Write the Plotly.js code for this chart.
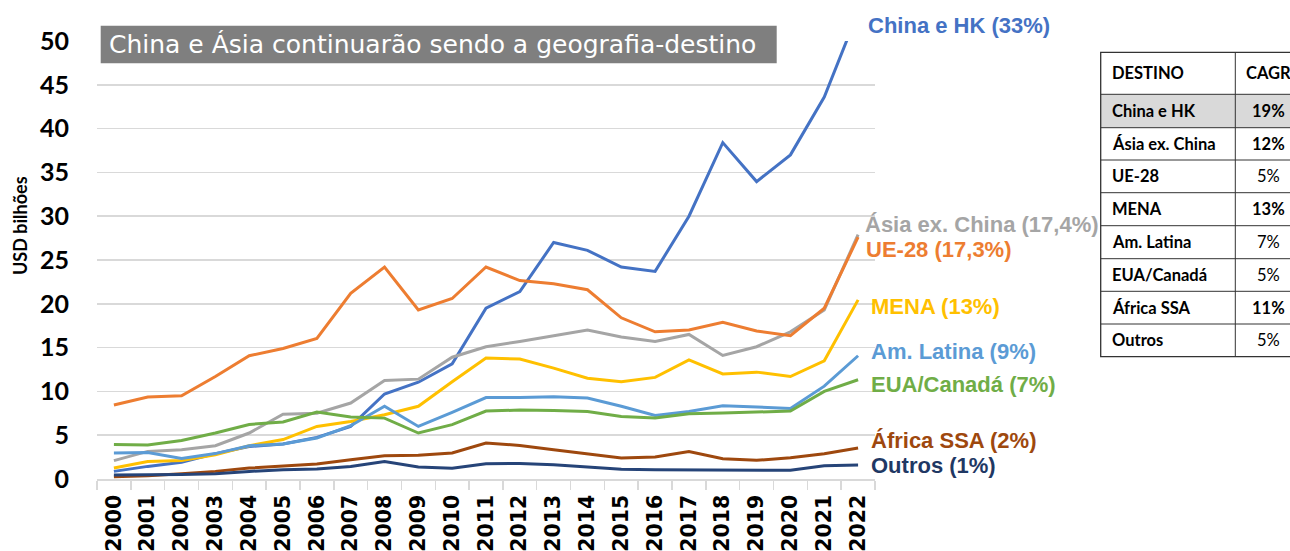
<!DOCTYPE html>
<html>
<head>
<meta charset="utf-8">
<script src="https://cdn.plot.ly/plotly-3.0.1.min.js"></script>
<style>html,body{margin:0;padding:0;background:#fff;}#chart{width:1290px;height:551px;}</style>
</head>
<body>
<div id="chart"></div>
<script>
// ---- data ----
const years = ["2000","2001","2002","2003","2004","2005","2006","2007","2008","2009","2010","2011","2012","2013","2014","2015","2016","2017","2018","2019","2020","2021","2022"];
const chinaHK   = [0.87,1.44,1.9,2.9,3.7,4.0,4.75,6.0,9.7,11.05,13.15,19.5,21.4,27.0,26.1,24.2,23.7,30.0,38.4,33.95,37.0,43.6,53.3];
const asiaExChina = [2.1,3.15,3.35,3.8,5.25,7.4,7.5,8.67,11.25,11.4,13.9,15.1,15.7,16.35,17.0,16.2,15.7,16.5,14.1,15.1,16.8,19.3,27.9];
const ue28      = [8.44,9.35,9.5,11.7,14.07,14.9,16.04,21.2,24.2,19.3,20.6,24.2,22.65,22.3,21.6,18.4,16.8,17.0,17.9,16.9,16.35,19.5,27.6];
const mena      = [1.25,2.0,2.1,2.77,3.8,4.5,6.0,6.57,7.33,8.3,11.1,13.8,13.7,12.66,11.5,11.1,11.6,13.6,12.0,12.2,11.7,13.5,20.45];
const amLatina  = [2.97,3.03,2.35,2.9,3.8,4.0,4.67,6.08,8.3,6.0,7.6,9.3,9.3,9.4,9.24,8.3,7.26,7.7,8.36,8.2,8.06,10.6,14.07];
const euaCanada = [3.95,3.87,4.4,5.25,6.23,6.5,7.64,7.07,6.95,5.25,6.2,7.75,7.87,7.83,7.7,7.14,6.96,7.45,7.53,7.68,7.75,10.0,11.33];
const africaSSA = [0.25,0.38,0.6,0.87,1.25,1.5,1.7,2.2,2.66,2.7,2.97,4.1,3.83,3.34,2.89,2.39,2.5,3.15,2.32,2.13,2.43,2.89,3.53];
const outros    = [0.45,0.45,0.5,0.6,0.87,1.05,1.15,1.44,2.0,1.37,1.22,1.75,1.78,1.63,1.37,1.1,1.07,1.05,0.99,0.99,0.99,1.52,1.6];

const seriesNames = ["China e HK","Ásia ex. China","UE-28","MENA","Am. Latina","EUA/Canadá","África SSA","Outros"];
const endLabels = ["China e HK (33%)","Ásia ex. China (17,4%)","UE-28 (17,3%)","MENA (13%)","Am. Latina (9%)","EUA/Canadá (7%)","África SSA (2%)","Outros (1%)"];
const tableHeader = ["DESTINO","CAGR"];
const tableDestinos = ["China e HK","Ásia ex. China","UE-28","MENA","Am. Latina","EUA/Canadá","África SSA","Outros"];
const tableCagr = ["19%","12%","5%","13%","7%","5%","11%","5%"];
const titleText = "China e Ásia continuarão sendo a geografia-destino";
const yTitle = "USD bilhões";

// ---- styles ----
const colors = ["#4472C4","#A5A5A5","#ED7D31","#FFC000","#5B9BD5","#70AD47","#9E480E","#264478"];
const labelColors = ["#4472C4","#A5A5A5","#ED7D31","#FFC000","#5B9BD5","#70AD47","#9E480E","#1F3864"];
const labelPixelY = [25,224,250,306,351,384,440,465];
const labelPixelX = [868,865,866,871,871,871,871,871];
const cagrBold = [true,true,false,true,false,false,true,false];

const allSeries = [chinaHK, asiaExChina, ue28, mena, amLatina, euaCanada, africaSSA, outros];

// plot geometry
const M = {l:97, r:415, t:41, b:72};
const W = 1290, H = 551;
const PW = W - M.l - M.r, PH = H - M.t - M.b;
const px = X => (X - M.l) / PW;
const py = Y => (H - M.b - Y) / PH;

const traces = allSeries.map((s,i) => ({
  type:'scatter', mode:'lines', x: years, y: s, name: seriesNames[i],
  line:{color: colors[i], width:3}, hoverinfo:'x+y+name'
}));

const annotations = [];
const shapes = [];

// title box
shapes.push({type:'rect', xref:'paper', yref:'paper', x0:px(100.7), x1:px(776.7), y0:py(63.3), y1:py(25.7), fillcolor:'#7F7F7F', line:{width:0}, layer:'above'});
annotations.push({xref:'paper', yref:'paper', x:px(107), y:py(44.5), xanchor:'left', yanchor:'middle', showarrow:false,
  text:titleText, font:{family:'DejaVu Sans', size:25, color:'#FFFFFF'}});

// y axis title
annotations.push({xref:'paper', yref:'paper', x:px(20), y:py(226), xanchor:'center', yanchor:'middle', showarrow:false, textangle:-90,
  text:yTitle, font:{family:'Lato, Carlito, Calibri, sans-serif', size:18, color:'#000', weight:'bold'}});

// end labels
endLabels.forEach((t,i) => {
  annotations.push({xref:'paper', yref:'paper', x:px(labelPixelX[i]-2), y:py(labelPixelY[i]), xanchor:'left', yanchor:'middle',
    showarrow:false, text:t, font:{family:'Liberation Sans, Arial', size:22, color:labelColors[i], weight:'bold'}});
});

// table
const rowY = [52.3,94.3,127.7,160,192.7,225.7,258.7,291.3,324,356.7];
const tX0 = 1100.7, tXd = 1235.3, tX1 = 1300;
shapes.push({type:'rect', xref:'paper', yref:'paper', x0:px(tX0), x1:px(tX1), y0:py(rowY[2]), y1:py(rowY[1]), fillcolor:'#D9D9D9', line:{width:0}, layer:'above'});
shapes.push({type:'rect', xref:'paper', yref:'paper', x0:px(tX0), x1:px(tX1), y0:py(rowY[9]), y1:py(rowY[0]), fillcolor:'rgba(0,0,0,0)', line:{color:'#333333', width:1.3}, layer:'above'});
for (let k=1;k<rowY.length-1;k++){
  shapes.push({type:'line', xref:'paper', yref:'paper', x0:px(tX0), x1:px(tX1), y0:py(rowY[k]), y1:py(rowY[k]), line:{color:'#333333', width:1}, layer:'above'});
}
shapes.push({type:'line', xref:'paper', yref:'paper', x0:px(tXd), x1:px(tXd), y0:py(rowY[0]), y1:py(rowY[9]), line:{color:'#333333', width:1}, layer:'above'});

const tableFont = 'Lato, Carlito, Calibri, sans-serif';
annotations.push({xref:'paper', yref:'paper', x:px(1110), y:py((rowY[0]+rowY[1])/2), xanchor:'left', yanchor:'middle', showarrow:false,
  text:tableHeader[0], font:{family:tableFont, size:16.5, color:'#000', weight:'bold'}});
annotations.push({xref:'paper', yref:'paper', x:px(1268), y:py((rowY[0]+rowY[1])/2), xanchor:'center', yanchor:'middle', showarrow:false,
  text:tableHeader[1], font:{family:tableFont, size:16.5, color:'#000', weight:'bold'}});
tableDestinos.forEach((d,i) => {
  const yc = py((rowY[i+1]+rowY[i+2])/2);
  annotations.push({xref:'paper', yref:'paper', x:px(1110), y:yc, xanchor:'left', yanchor:'middle', showarrow:false,
    text:d, font:{family:tableFont, size:16.5, color:'#000', weight:'bold'}});
  annotations.push({xref:'paper', yref:'paper', x:px(1268), y:yc, xanchor:'center', yanchor:'middle', showarrow:false,
    text:tableCagr[i], font:{family:tableFont, size:16.5, color:'#000', weight: cagrBold[i] ? 'bold' : 'normal'}});
});

const layout = {
  width:W, height:H, margin:M, paper_bgcolor:'#FFFFFF', plot_bgcolor:'#FFFFFF', showlegend:false,
  xaxis:{type:'category', range:[-0.5,22.5], showgrid:false, showline:true, linecolor:'#D9D9D9', linewidth:1.5,
    ticks:'outside', tickson:'boundaries', ticklen:9, tickcolor:'#D9D9D9', tickwidth:1.5, tickangle:-90, ticklabelstandoff:6,
    tickfont:{family:'DejaVu Sans', size:20.5, color:'#000', weight:'bold'}, zeroline:false, fixedrange:true},
  yaxis:{range:[0,50], dtick:5, tick0:0, showgrid:true, gridcolor:'#D9D9D9', gridwidth:1.5, zeroline:false, showline:false,
    ticks:'', ticklabelstandoff:27, tickfont:{family:'Lato, Carlito, Calibri, sans-serif', size:25, color:'#000', weight:'bold'},
    fixedrange:true},
  shapes:shapes, annotations:annotations
};

Plotly.newPlot('chart', traces, layout, {displayModeBar:false, staticPlot:true});
</script>
</body>
</html>
